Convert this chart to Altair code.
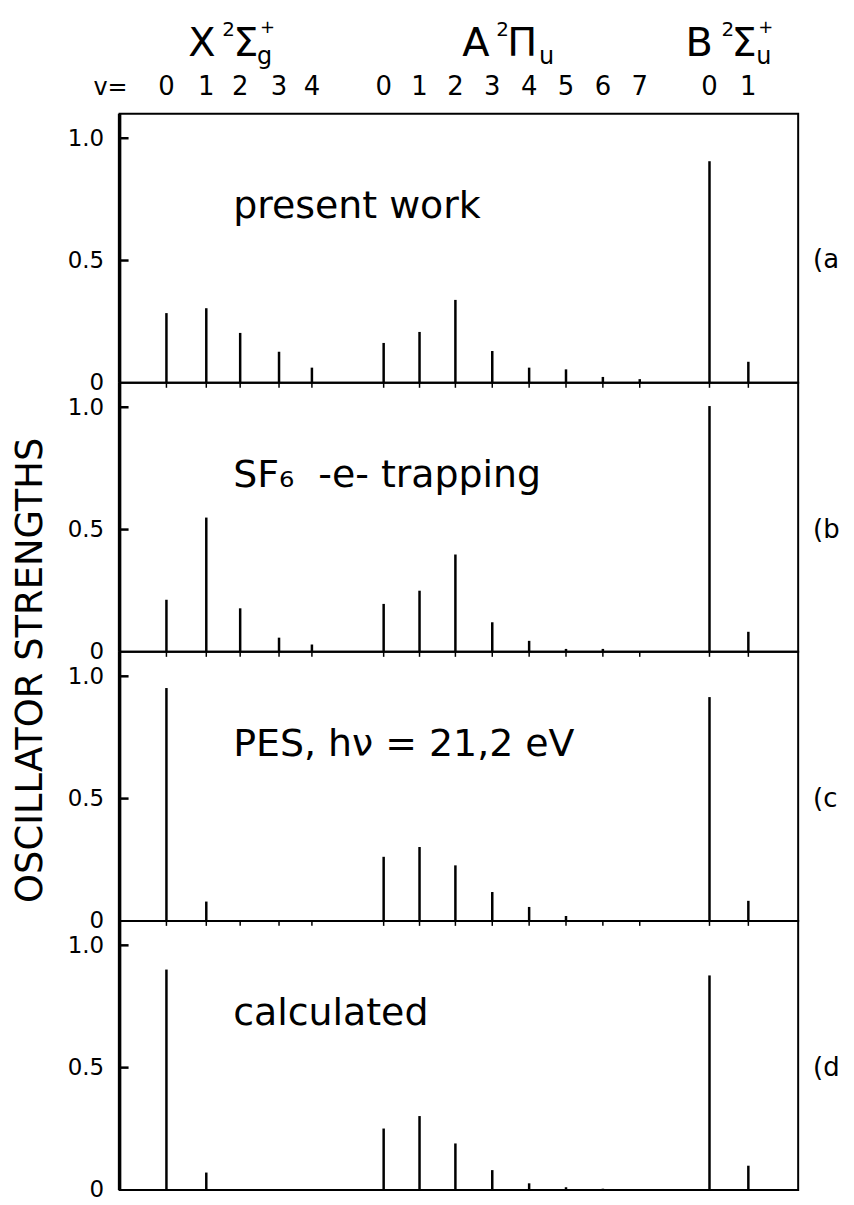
import altair as alt
import pandas as pd

# ---- data -------------------------------------------------------------
level_state = ["X"] * 5 + ["A"] * 8 + ["B"] * 2
level_v = ["0", "1", "2", "3", "4", "0", "1", "2", "3", "4", "5", "6", "7", "0", "1"]
# position of each vibrational level along the (arbitrary) energy axis
level_position = [47, 87, 121, 160, 193, 265, 301, 337, 374, 411, 448, 485, 522, 592, 631]

f_present = [0.285, 0.305, 0.204, 0.127, 0.062, 0.163, 0.208, 0.339, 0.130, 0.062, 0.055, 0.024, 0.015, 0.906, 0.086]
f_sf6     = [0.213, 0.549, 0.178, 0.058, 0.030, 0.196, 0.250, 0.398, 0.121, 0.045, 0.012, 0.012, 0.0,   1.005, 0.082]
f_pes     = [0.952, 0.079, 0.0,   0.0,   0.0,   0.262, 0.302, 0.227, 0.118, 0.057, 0.020, 0.0,   0.0,   0.915, 0.082]
f_calc    = [0.901, 0.071, 0.0,   0.0,   0.0,   0.251, 0.302, 0.190, 0.081, 0.027, 0.011, 0.005, 0.0,   0.877, 0.099]

panel_values = [f_present, f_sf6, f_pes, f_calc]
panel_texts = ["present work", "SF\u2086\u00a0\u00a0-e- trapping", "PES, h\u03bd = 21,2 eV", "calculated"]
panel_tags = ["(a", "(b", "(c", "(d"]
y_ticks = [0, 0.5, 1.0]

# state labels (X 2Σg+, A 2Πu, B 2Σu+), split into glyph pieces
state_text = ["X", "2", "\u03a3", "g", "+", "A", "2", "\u03a0", "u", "B", "2", "\u03a3", "u", "+"]
state_pos  = [69, 103, 114, 138, 141, 344, 378, 389, 421, 568, 604, 614, 639, 641]
state_role = ["main", "sup", "main", "sub", "plus", "main", "sup", "main", "sub", "main", "sup", "main", "sub", "plus"]

W, H = 681, 270
FONT = "DejaVu Sans"
xscale = alt.Scale(domain=[0, 681])
yscale = alt.Scale(domain=[0, 1.1])

# ---- header -------------------------------------------------------------
sdf = pd.DataFrame({"pos": state_pos, "label": state_text, "role": state_role})
role_style = {"main": (40, 40), "sup": (20, 20), "sub": (24, 48), "plus": (18, 17)}
header_layers = []
for role, (size, ypix) in role_style.items():
    header_layers.append(
        alt.Chart(sdf[sdf.role == role]).mark_text(
            align="left", baseline="alphabetic", fontSize=size, color="black"
        ).encode(
            x=alt.X("pos:Q", scale=xscale, axis=None),
            y=alt.value(ypix),
            text="label:N",
        )
    )
vdf = pd.DataFrame({"pos": level_position, "label": level_v})
header_layers.append(
    alt.Chart(vdf).mark_text(align="center", baseline="alphabetic", fontSize=26, color="black").encode(
        x=alt.X("pos:Q", scale=xscale, axis=None), y=alt.value(79), text="label:N"
    )
)
header_layers.append(
    alt.Chart(pd.DataFrame({"pos": [8], "label": ["v="]})).mark_text(
        align="right", baseline="alphabetic", fontSize=24, color="black"
    ).encode(x=alt.X("pos:Q", scale=xscale, axis=None), y=alt.value(79), text="label:N")
)
header = alt.layer(*header_layers).properties(
    width=W, height=98, view=alt.ViewBackground(stroke="transparent")
)

# ---- panels -------------------------------------------------------------
LABEL_EXPR = "datum.value == 0 ? '0' : format(datum.value, '.1f')"


def make_panel(i):
    df = pd.DataFrame({"pos": level_position, "f": panel_values[i]})
    df = df[df.f > 0]
    common = dict(
        values=y_ticks, labelExpr=LABEL_EXPR, ticks=False, domain=False, grid=False,
        labelFontSize=23, labelPadding=16,
    )
    if i == 1:
        yaxis = alt.Axis(
            title="OSCILLATOR STRENGTHS", titleFontSize=37, titleFontWeight="normal",
            titlePadding=18, titleY=H + 18, **common,
        )
    else:
        yaxis = alt.Axis(title=None, **common)
    bars = alt.Chart(df).mark_rule(color="black", strokeWidth=2.5).encode(
        x=alt.X("pos:Q", scale=xscale, axis=None),
        y=alt.Y("f:Q", scale=yscale, axis=yaxis),
        y2=alt.datum(0),
    )
    ticks = alt.Chart(pd.DataFrame({"f": [0.5, 1.0]})).mark_rule(color="black", strokeWidth=2.5).encode(
        x=alt.value(0), x2=alt.value(9), y=alt.Y("f:Q", scale=yscale)
    )
    left_edge = alt.Chart(pd.DataFrame({"f": [0.0]})).mark_rule(color="black", strokeWidth=3.5).encode(
        x=alt.value(0), y=alt.value(0), y2=alt.value(H)
    )
    label = alt.Chart(pd.DataFrame({"pos": [114], "f": [0.675], "label": [panel_texts[i]]})).mark_text(
        align="left", baseline="alphabetic", fontSize=38, color="black"
    ).encode(x=alt.X("pos:Q", scale=xscale), y=alt.Y("f:Q", scale=yscale), text="label:N")
    tag = alt.Chart(pd.DataFrame({"f": [0.5], "label": [panel_tags[i]]})).mark_text(
        align="left", baseline="middle", fontSize=26, color="black"
    ).encode(x=alt.value(W + 15), y=alt.Y("f:Q", scale=yscale), text="label:N")
    layers = [bars, ticks, left_edge, label, tag]
    if i > 0:
        top = alt.Chart(pd.DataFrame({"pos": level_position})).mark_rule(color="black", strokeWidth=1.5).encode(
            x=alt.X("pos:Q", scale=xscale), y=alt.value(0), y2=alt.value(5)
        )
        layers.append(top)
    return alt.layer(*layers).properties(width=W, height=H)


panels = [make_panel(i) for i in range(4)]

chart = alt.vconcat(header, *panels, spacing=0, bounds="flush").properties(
    padding={"left": 2, "top": 5, "right": 5, "bottom": 5}
).configure(font=FONT).configure_view(stroke="black", strokeWidth=2)

chart.save("out.html", embed_options={"renderer": "svg", "actions": False})
